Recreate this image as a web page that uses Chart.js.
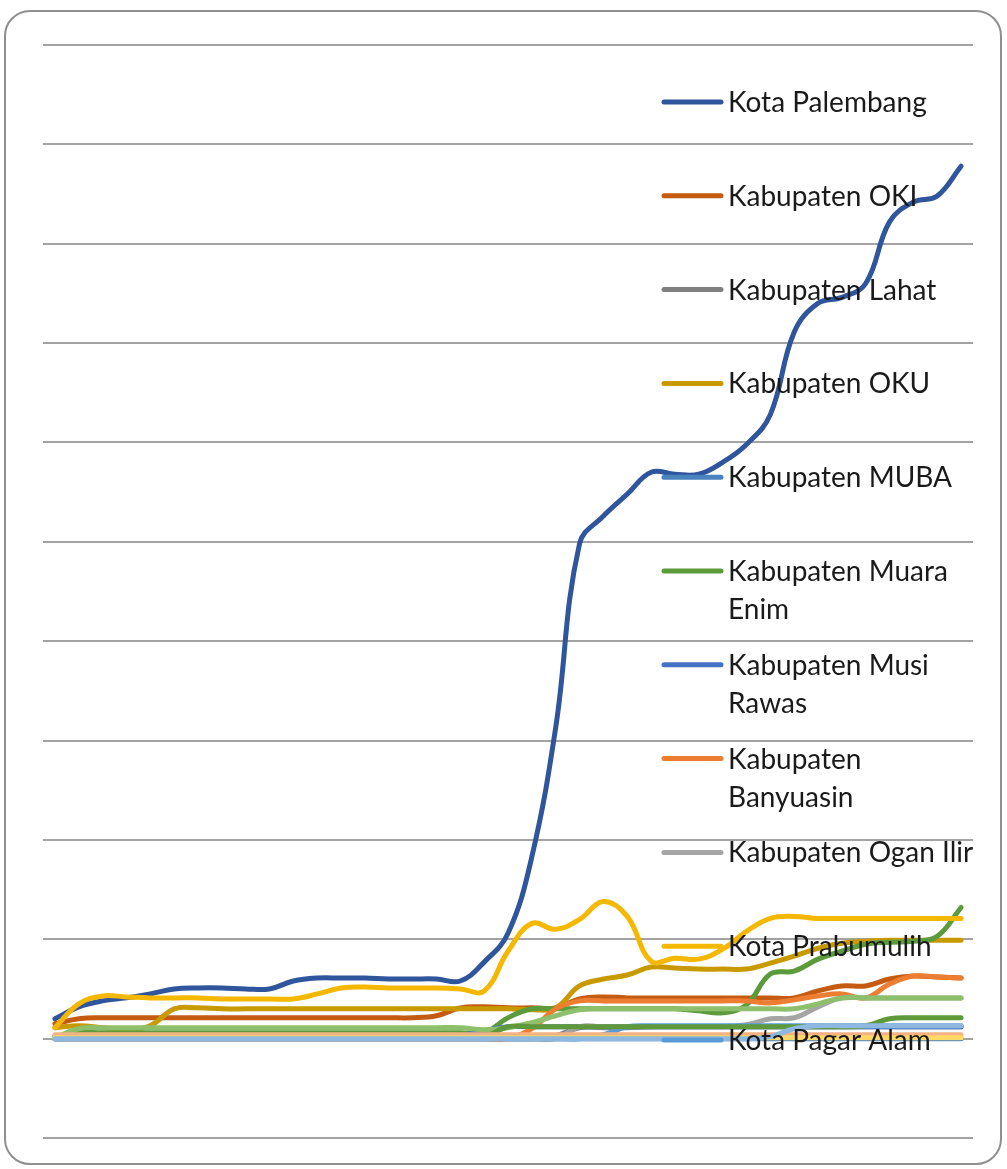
<!DOCTYPE html>
<html lang="id">
  <head>
    <meta charset="UTF-8" />
    <title>Grafik Sumatera Selatan</title>
    <script src="https://cdn.jsdelivr.net/npm/chart.js"></script>
    <style>
      body { margin: 0; background: #fff; }
      #wrap { position: relative; width: 1007px; height: 1169px; }
      #frame {
        position: absolute; left: 4px; top: 10px; width: 998px; height: 1155px;
        border: 2px solid #8f8f8f; border-radius: 26px; box-sizing: border-box;
      }
      #chart { position: absolute; left: 0; top: 0; }
    </style>
  </head>
  <body>
    <div id="wrap">
      <div id="frame"></div>
      <canvas id="chart" width="1007" height="1169"></canvas>
    </div>

    <script>
      // categories (no labels shown on the axis)
      const categories = Array.from({ length: 39 }, (_, i) => String(i + 1));

      // series values (one gridline = 100)
      const palembang   = [20,32,38,41,45,50,51,51,50,50,58,61,61,61,60,60,60,58,77,106,183,313,498,526,548,570,568,568,580,598,628,711,740,746,760,822,842,848,878];
      const oki         = [15,20,21,21,21,21,21,21,21,21,21,21,21,21,21,21,23,31,32,31,31,31,40,42,41,41,41,41,41,41,41,41,48,53,53,60,63,62,61];
      const lahat       = [0,0,0,0,0,0,0,0,0,0,0,0,0,0,0,0,0,0,0,0,0,3,11,11,11,12,12,12,12,12,12,12,12,12,12,12,12,12,12];
      const oku         = [11,13,11,8,13,30,31,30,30,30,30,30,30,30,30,30,30,30,30,30,29,31,53,60,64,72,71,70,70,70,76,83,91,96,98,99,99,99,99];
      const muba        = [0,0,0,0,0,0,0,0,0,0,0,0,0,0,0,0,0,0,0,0,0,0,0,0,0,0,0,0,0,0,0,0,0,0,0,0,0,0,0];
      const muaraEnim   = [0,6,6,6,6,6,6,6,6,6,6,6,6,6,6,6,6,6,6,21,30,30,30,30,30,30,30,28,26,34,65,68,80,88,95,97,98,103,132];
      const musiRawas   = [3,3,3,3,3,3,3,3,3,3,3,3,3,3,3,3,3,3,8,12,12,12,12,12,12,12,12,12,12,12,12,12,12,12,12,12,12,12,12];
      const banyuasin   = [0,0,0,0,0,0,0,0,0,0,0,0,0,0,0,0,0,0,0,0,10,30,38,38,38,38,38,38,38,38,36,39,43,45,41,55,63,62,61];
      const oganIlir    = [0,0,0,0,0,0,0,0,0,0,0,0,0,0,0,0,0,0,0,0,0,0,12,12,12,12,12,12,12,14,20,21,32,41,41,41,41,41,41];
      const prabumulih  = [11,35,43,42,41,41,41,40,40,40,40,45,51,52,51,51,51,50,48,88,116,110,120,138,123,78,81,80,90,108,121,123,121,121,121,121,121,121,121];
      const pagarAlam   = [0,0,0,0,0,0,0,0,0,0,0,0,0,0,0,0,0,0,0,0,0,0,0,4,12,13,13,13,13,13,13,13,13,13,13,13,13,13,13];
      const lubuklinggau = [1,10,11,11,11,11,11,11,11,11,11,11,11,11,11,11,11,11,9,11,16,23,29,30,30,30,30,30,30,30,30,30,35,41,41,41,41,41,41];
      const okuTimur    = [2,2,2,2,2,2,2,2,2,2,2,2,2,2,2,2,2,2,2,12,12,12,12,12,12,12,12,12,12,12,12,12,12,12,13,20,21,21,21];
      const okuSelatan  = [4,4,4,4,4,4,4,4,4,4,4,4,4,4,4,4,4,4,4,4,4,4,4,4,4,4,4,4,4,4,4,4,4,4,4,4,4,4,4];
      const empatLawang = [1,1,1,1,1,1,1,1,1,1,1,1,1,1,1,1,1,1,1,1,1,1,1,1,1,1,1,1,1,1,1,1,1,1,1,1,1,1,1];
      const pali        = [0,0,0,0,0,0,0,0,0,0,0,0,0,0,0,0,0,0,0,0,0,0,0,0,0,0,0,0,0,0,2,10,13,13,13,13,13,13,13];

      const yTicks = [-100, 0, 100, 200, 300, 400, 500, 600, 700, 800, 900, 1000];

      const seriesNames = [
        "Kota Palembang", "Kabupaten OKI", "Kabupaten Lahat", "Kabupaten OKU", "Kabupaten MUBA",
        "Kabupaten Muara Enim", "Kabupaten Musi Rawas", "Kabupaten Banyuasin", "Kabupaten Ogan Ilir",
        "Kota Prabumulih", "Kota Pagar Alam", "Kota Lubuklinggau", "Kabupaten OKU Timur",
        "Kabupaten OKU Selatan", "Kabupaten Empat Lawang", "Kabupaten PALI",
      ];
      const seriesValues = [
        palembang, oki, lahat, oku, muba, muaraEnim, musiRawas, banyuasin, oganIlir,
        prabumulih, pagarAlam, lubuklinggau, okuTimur, okuSelatan, empatLawang, pali,
      ];
      const seriesColors = [
        "#2f559c", "#c55a11", "#7f7f7f", "#c89a00", "#4a82be", "#5b9b3c", "#4472c4", "#ed7d31",
        "#a5a5a5", "#f5b800", "#5b9bd5", "#8ec06c", "#5e9a3c", "#f4b183", "#ffd966", "#8fb8e0",
      ];
      const legendCount = 11; // the rest of the legend is cut off in the original

      const datasets = seriesNames.map((name, i) => ({
        label: name,
        data: seriesValues[i],
        borderColor: seriesColors[i],
        backgroundColor: seriesColors[i],
        borderWidth: 5,
        pointRadius: 0,
        tension: 0.4,
        borderCapStyle: "round",
        borderJoinStyle: "round",
        order: seriesNames.length - i, // later series on top, like the original
      }));

      // legend drawn over the plot on the right side
      const overlayLegend = {
        id: "overlayLegend",
        afterDraw(chart) {
          const ctx = chart.ctx;
          const font = "28px Lato, 'Noto Sans', sans-serif";
          const maxW = 262;
          ctx.save();
          ctx.font = font;
          ctx.textBaseline = "middle";
          for (let i = 0; i < legendCount; i++) {
            const y = 102 + i * 93.8;
            ctx.strokeStyle = seriesColors[i];
            ctx.lineWidth = 5;
            ctx.lineCap = "round";
            ctx.beginPath();
            ctx.moveTo(664, y);
            ctx.lineTo(721, y);
            ctx.stroke();

            // simple word wrap
            const words = seriesNames[i].split(" ");
            const lines = [];
            let cur = "";
            words.forEach((w) => {
              const test = cur ? cur + " " + w : w;
              if (cur && ctx.measureText(test).width > maxW) {
                lines.push(cur);
                cur = w;
              } else {
                cur = test;
              }
            });
            lines.push(cur);
            ctx.fillStyle = "#1a1a1a";
            lines.forEach((t, k) => ctx.fillText(t, 728, y + 1 + k * 38));
          }
          ctx.restore();
        },
      };

      new Chart(document.getElementById("chart"), {
        type: "line",
        data: { labels: categories, datasets: datasets },
        options: {
          responsive: false,
          animation: false,
          devicePixelRatio: 1,
          layout: { padding: { left: 43, right: 34, top: 45, bottom: 31 } },
          plugins: { legend: { display: false }, tooltip: { enabled: false } },
          scales: {
            x: {
              offset: true,
              display: false,
            },
            y: {
              min: yTicks[0],
              max: yTicks[yTicks.length - 1],
              afterBuildTicks: (scale) => {
                scale.ticks = yTicks.map((v) => ({ value: v }));
              },
              ticks: { display: false },
              border: { display: false },
              grid: { color: "#a3a3a3", lineWidth: 2, drawTicks: false },
            },
          },
        },
        plugins: [overlayLegend],
      });
    </script>
  </body>
</html>
